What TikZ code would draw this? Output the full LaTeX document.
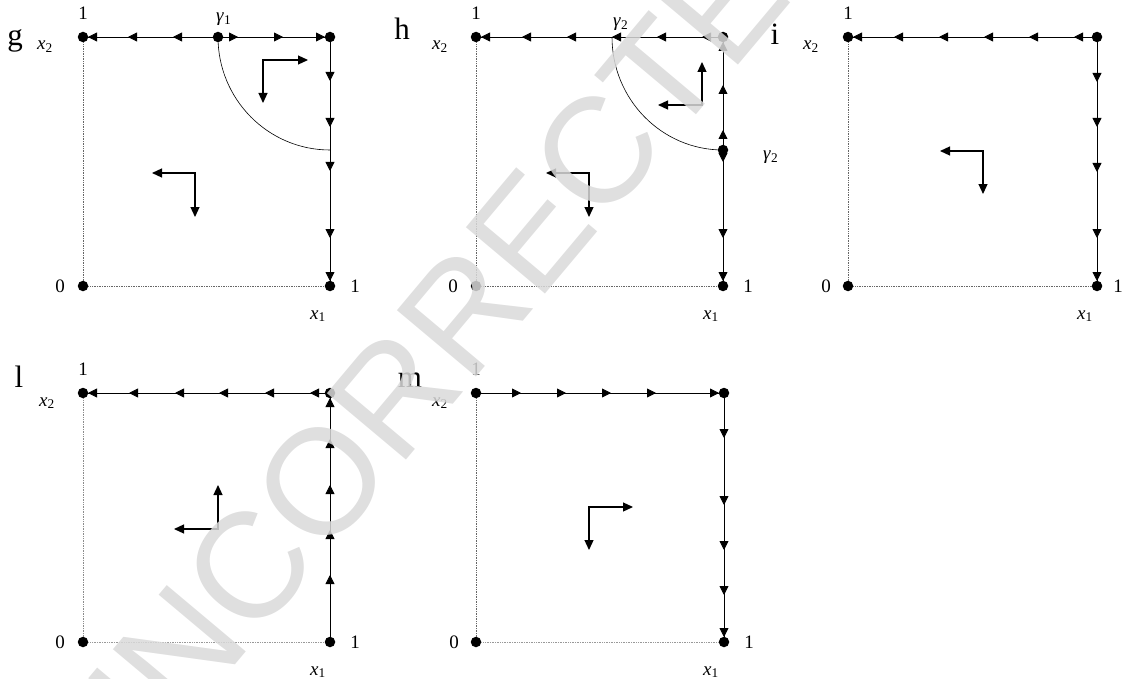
\documentclass[tikz,border=0pt]{standalone}
\usepackage{fontspec}
\setmainfont{Liberation Serif}
\newfontfamily\wmfont{Liberation Sans}
\usetikzlibrary{arrows.meta}
\newcommand\tipL[2]{\draw[tipmark] ({#1+10},#2) -- (#1,#2);}
\newcommand\tipR[2]{\draw[tipmark] ({#1-10},#2) -- (#1,#2);}
\newcommand\tipD[2]{\draw[tipmark] (#1,{#2-10}) -- (#1,#2);}
\newcommand\tipU[2]{\draw[tipmark] (#1,{#2+10}) -- (#1,#2);}
\begin{document}
\begin{tikzpicture}[x=1pt,y=-1pt,
  edge/.style={line width=0.8pt},
  guide/.style={densely dotted, line width=0.7pt, black!60},
  dotnode/.style={circle, fill, inner sep=0pt, minimum size=10.5pt},
  tipmark/.style={-{Triangle[length=9pt,width=9pt]}, line width=0.8pt},
  corner/.style={line width=1.2pt, {Triangle[length=10pt,width=9pt]}-{Triangle[length=10pt,width=9pt]}},
  curve/.style={line width=0.6pt},
  lbl/.style={font=\fontsize{19}{19}\selectfont, anchor=base, inner sep=0pt},
  sublbl/.style={font=\fontsize{19}{19}\selectfont, anchor=base west, inner sep=0pt},
  panel/.style={font=\fontsize{31}{31}\selectfont, anchor=base, inner sep=0pt},
]
\useasboundingbox (0,0) rectangle (1123,679);

% ---------- panel g ----------
\begin{scope}[shift={(83,37)}]
\node[dotnode] (gTL) at (0,0) {};
\node[dotnode] (gTR) at (247,0) {};
\node[dotnode] (gBL) at (0,249) {};
\node[dotnode] (gBR) at (247,249) {};
\node[dotnode] (gG) at (135,0) {};
\draw[guide] (gTL) -- (gBL);
\draw[guide] (gBL) -- (gBR);
\draw[edge] (gTL) -- (gTR);
\draw[edge] (gTR) -- (gBR);
\draw[curve] (gG.center) arc[start angle=180, end angle=90, x radius=112, y radius=113];
\tipL{5}{0}\tipL{45}{0}\tipL{90}{0}
\tipR{155}{0}\tipR{200}{0}\tipR{242}{0}
\tipD{247}{44}\tipD{247}{90}\tipD{247}{134}\tipD{247}{201}\tipD{247}{244}
\draw[corner] (225,23) -- (180,23) -- (180,66);
\draw[corner] (69,136) -- (112,136) -- (112,180);
\node[panel] (gL) at (-68,9) {g};
\node[lbl] (g1) at (0,-17) {1};
\node[lbl] (g0) at (-23,255) {0};
\node[lbl] (g1r) at (272,255) {1};
\node[sublbl] (gx2) at (-46,13) {\textit{x}\textsubscript{2}};
\node[sublbl] (gx1) at (227,282) {\textit{x}\textsubscript{1}};
\node[sublbl] (gga) at (133,-15) {\textit{γ}\textsubscript{1}};
\end{scope}

% ---------- panel h ----------
\begin{scope}[shift={(476,37)}]
\node[dotnode] (hTL) at (0,0) {};
\node[dotnode] (hTR) at (247,0) {};
\node[dotnode] (hBL) at (0,249) {};
\node[dotnode] (hBR) at (247,249) {};
\node[dotnode] (hG) at (247,113) {};
\coordinate (hS) at (136,0);
\draw[guide] (hTL) -- (hBL);
\draw[guide] (hBL) -- (hBR);
\draw[edge] (hTL) -- (hTR);
\draw[edge] (hTR) -- (hBR);
\draw[curve] (hS) arc[start angle=180, end angle=90, x radius=111, y radius=113];
\tipL{5}{0}\tipL{46}{0}\tipL{91}{0}\tipL{136}{0}\tipL{181}{0}\tipL{226}{0}
\tipU{247}{5}\tipU{247}{48}\tipU{247}{93}
\tipD{247}{125}\tipD{247}{201}\tipD{247}{244}
\draw[corner] (182,68) -- (226,68) -- (226,25);
\draw[corner] (70,136) -- (113,136) -- (113,180);
\node[panel] (hL) at (-74,3) {h};
\node[lbl] (h1) at (0,-17) {1};
\node[lbl] (h0) at (-23,255) {0};
\node[lbl] (h1r) at (272,255) {1};
\node[sublbl] (hx2) at (-44,13) {\textit{x}\textsubscript{2}};
\node[sublbl] (hx1) at (227,282) {\textit{x}\textsubscript{1}};
\node[sublbl] (hga) at (137,-10) {\textit{γ}\textsubscript{2}};
\node[sublbl] (hgb) at (287,123) {\textit{γ}\textsubscript{2}};
\end{scope}

% ---------- panel i ----------
\begin{scope}[shift={(848,37)}]
\node[dotnode] (iTL) at (0,0) {};
\node[dotnode] (iTR) at (249,0) {};
\node[dotnode] (iBL) at (0,249) {};
\node[dotnode] (iBR) at (249,249) {};
\draw[guide] (iTL) -- (iBL);
\draw[guide] (iBL) -- (iBR);
\draw[edge] (iTL) -- (iTR);
\draw[edge] (iTR) -- (iBR);
\tipL{5}{0}\tipL{46}{0}\tipL{91}{0}\tipL{136}{0}\tipL{181}{0}\tipL{226}{0}
\tipD{249}{45}\tipD{249}{90}\tipD{249}{135}\tipD{249}{201}\tipD{249}{244}
\draw[corner] (92,114) -- (135,114) -- (135,157);
\node[panel] (iL) at (-73,8) {i};
\node[lbl] (i1) at (0,-17) {1};
\node[lbl] (i0) at (-22,255) {0};
\node[lbl] (i1r) at (270,255) {1};
\node[sublbl] (ix2) at (-45,13) {\textit{x}\textsubscript{2}};
\node[sublbl] (ix1) at (229,282) {\textit{x}\textsubscript{1}};
\end{scope}

% ---------- panel l ----------
\begin{scope}[shift={(83,393)}]
\node[dotnode] (lTL) at (0,0) {};
\node[dotnode] (lTR) at (247,0) {};
\node[dotnode] (lBL) at (0,249) {};
\node[dotnode] (lBR) at (247,249) {};
\draw[guide, black!45] (lTL) -- (lBL);
\draw[guide, black!40] (lBL) -- (lBR);
\draw[edge] (lTL) -- (lTR);
\draw[edge] (lBR) -- (lTR);
\tipL{5}{0}\tipL{46}{0}\tipL{92}{0}\tipL{136}{0}\tipL{182}{0}\tipL{227}{0}
\tipU{247}{5}\tipU{247}{46}\tipU{247}{92}\tipU{247}{137}\tipU{247}{182}
\draw[corner] (91,136) -- (135,136) -- (135,92);
\node[panel] (lL) at (-64,-6) {l};
\node[lbl] (l1) at (0,-18) {1};
\node[lbl] (l0) at (-23,255) {0};
\node[lbl] (l1r) at (272,255) {1};
\node[sublbl] (lx2) at (-44,13) {\textit{x}\textsubscript{2}};
\node[sublbl] (lx1) at (227,282) {\textit{x}\textsubscript{1}};
\end{scope}

% ---------- panel m ----------
\begin{scope}[shift={(476,393)}]
\node[dotnode] (mTL) at (0,0) {};
\node[dotnode] (mTR) at (248,0) {};
\node[dotnode] (mBL) at (0,249) {};
\node[dotnode] (mBR) at (248,249) {};
\draw[guide] (mTL) -- (mBL);
\draw[guide, black!40] (mBL) -- (mBR);
\draw[edge] (mTL) -- (mTR);
\draw[edge] (mTR) -- (mBR);
\tipR{45}{0}\tipR{90}{0}\tipR{135}{0}\tipR{180}{0}\tipR{243}{0}
\tipD{248}{45}\tipD{248}{112}\tipD{248}{157}\tipD{248}{202}\tipD{248}{244}
\draw[corner] (157,114) -- (113,114) -- (113,157);
\node[panel] (mL) at (-66,-6) {m};
\node[lbl] (m1) at (0,-18) {1};
\node[lbl] (m0) at (-22,255) {0};
\node[lbl] (m1r) at (273,255) {1};
\node[sublbl] (mx2) at (-44,13) {\textit{x}\textsubscript{2}};
\node[sublbl] (mx1) at (227,282) {\textit{x}\textsubscript{1}};
\end{scope}

% ---------- watermark ----------
\node[rotate=50, text=black!15, text opacity=0.85, inner sep=0pt,
      font=\wmfont\fontsize{150}{150}\selectfont] (wm) at (450,328) {UNCORRECTED};
\end{tikzpicture}
\end{document}
